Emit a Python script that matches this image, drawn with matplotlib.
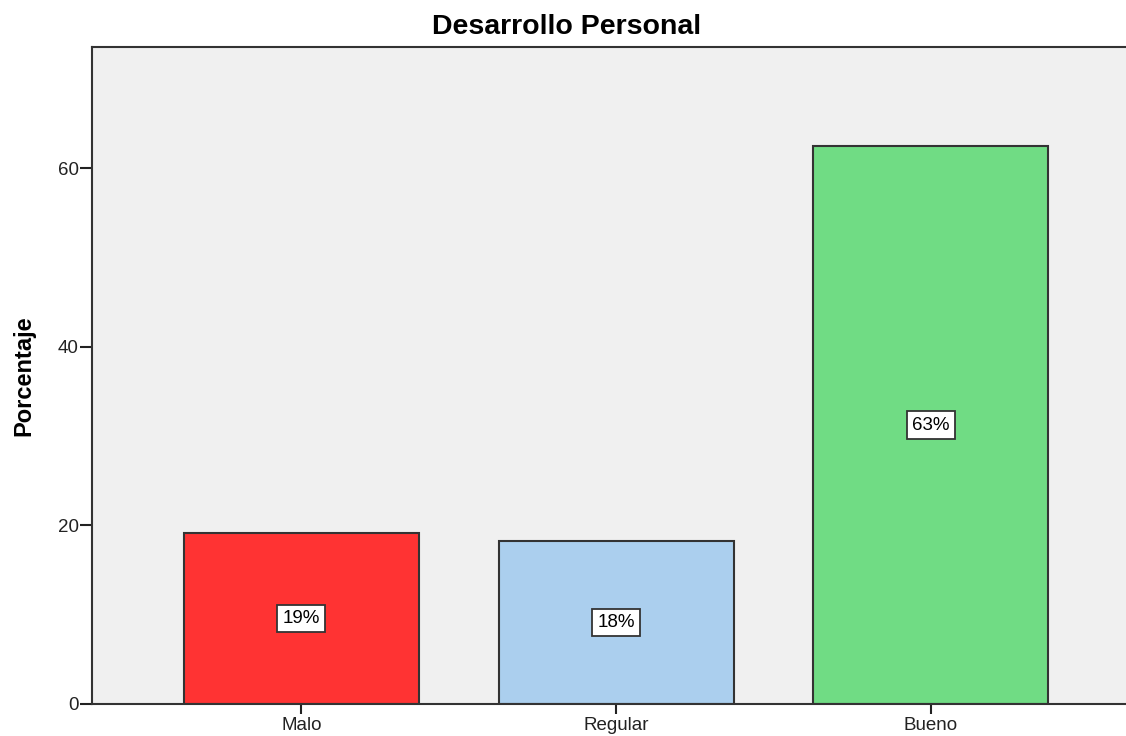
import matplotlib
matplotlib.use("Agg")
import matplotlib.pyplot as plt
import numpy as np

plt.rcParams['font.family'] = ['Liberation Sans', 'DejaVu Sans']

# Data
categories = ["Malo", "Regular", "Bueno"]
percentages = [19.2, 18.25, 62.5]
labels = ["19%", "18%", "63%"]
colors = ["#FF3333", "#ABCFEE", "#70DC84"]

fig = plt.figure(figsize=(11.26, 7.36), dpi=100)
ax = fig.add_axes([92 / 1126, 32 / 736, 1 - 92 / 1126, (704 - 47) / 736])
ax.set_facecolor("#F0F0F0")

x = np.arange(len(categories))
ax.bar(x, percentages, width=0.747, color=colors, edgecolor="#333333", linewidth=1.5, zorder=2)

# percentage labels in white boxes at mid-height
for xi, val, lab in zip(x, percentages, labels):
    ax.text(xi, val / 2, lab, ha="center", va="center", fontsize=13.5, zorder=3,
            bbox=dict(boxstyle="square,pad=0.28", facecolor="white", edgecolor="#333333", linewidth=1.3))

ax.set_xlim(-0.665, 2.62)
ax.set_ylim(0, 73.6)
ax.set_xticks(x)
ax.set_xticklabels(categories)
ax.set_yticks([0, 20, 40, 60])
ax.tick_params(axis="both", direction="out", width=1.5, labelsize=13.5, colors="#222222")
ax.tick_params(axis="y", length=8.5, pad=1)
ax.tick_params(axis="x", length=7, pad=2)

ax.spines["right"].set_visible(False)
for s in ["left", "bottom", "top"]:
    ax.spines[s].set_linewidth(1.5)
    ax.spines[s].set_color("#333333")

ax.set_ylabel("Porcentaje", fontsize=17, fontweight="bold", labelpad=16)
fig.text(567 / 1126, 1 - 27 / 736, "Desarrollo Personal", ha="center", va="center",
         fontsize=20.5, fontweight="bold")

fig.savefig("out.png", dpi=100)
